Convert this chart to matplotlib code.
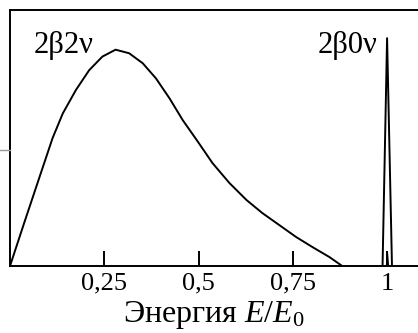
import matplotlib
matplotlib.use("Agg")
import matplotlib.pyplot as plt
from matplotlib.lines import Line2D

plt.rcParams["font.family"] = "Liberation Serif"
plt.rcParams["mathtext.fontset"] = "custom"
plt.rcParams["mathtext.rm"] = "Liberation Serif"
plt.rcParams["mathtext.it"] = "Liberation Serif:italic"

# 2beta2nu continuous spectrum
e_2nu = [0.0, 0.038, 0.080, 0.113, 0.140, 0.175, 0.210, 0.245, 0.280,
         0.316, 0.352, 0.387, 0.423, 0.458, 0.498, 0.537, 0.582, 0.627,
         0.669, 0.714, 0.759, 0.802, 0.847, 0.881]
n_2nu = [0.0, 0.170, 0.355, 0.500, 0.596, 0.688, 0.765, 0.818, 0.845,
         0.831, 0.792, 0.733, 0.655, 0.570, 0.486, 0.402, 0.324, 0.258,
         0.207, 0.160, 0.113, 0.074, 0.035, 0.0]

# 2beta0nu line at E0
e_0nu = [0.988, 1.0, 1.013]
n_0nu = [0.0, 0.89, 0.0]
e_inner = [0.998, 1.001, 1.004]
n_inner = [0.0, 0.055, 0.0]

ticks = [0.25, 0.5, 0.75, 1.0]
tick_labels = ["0,25", "0,5", "0,75", "1"]

fig = plt.figure(figsize=(4.18, 3.33), dpi=100)
ax = fig.add_axes([10 / 418, 67 / 333, 408 / 418, 256 / 333])

ax.plot(e_2nu, n_2nu, color="black", lw=1.4, solid_joinstyle="round")
ax.plot(e_0nu, n_0nu, color="black", lw=1.4)
ax.plot(e_inner, n_inner, color="black", lw=0.8)

ax.text(0.062, 0.832, "2β2ν", fontsize=22, ha="left", va="baseline")
ax.text(0.974, 0.832, "2β0ν", fontsize=22, ha="right", va="baseline")

ax.set_xlim(0, 1.082)
ax.set_ylim(0, 1)
ax.set_xticks(ticks)
ax.set_xticklabels(tick_labels)
ax.set_yticks([])
ax.tick_params(axis="x", direction="in", length=11, width=1.4, pad=5, labelsize=19)
ax.spines["right"].set_visible(False)
for s in ["left", "top", "bottom"]:
    ax.spines[s].set_linewidth(1.4)

ax.set_xlabel("Энергия $E/E_\\mathit{0}$", fontsize=23, labelpad=3)

# short grey stub at the left edge
fig.add_artist(Line2D([0, 10 / 418], [183 / 333, 183 / 333], color="#999999", lw=1))

fig.savefig("out.png", dpi=100)
